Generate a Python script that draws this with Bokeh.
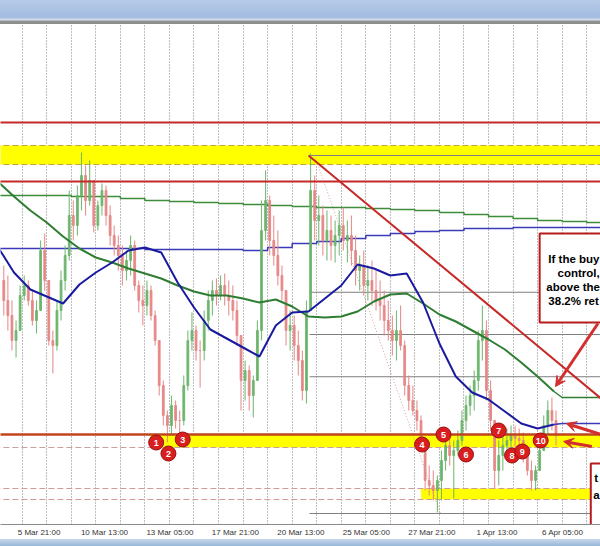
from bokeh.plotting import figure
from bokeh.models import Range1d, FixedTicker, ColumnDataSource, Arrow, VeeHead, Div
from bokeh.layouts import column
from bokeh.embed import file_html
from bokeh.resources import INLINE
from bokeh.core.properties import value

# ---------------- data ----------------
# x = hourly bar number (bar 0 = 6 Mar 00:00)
axis_label_bars = [-3, 61, 125, 189, 253, 317, 381, 445, 509]
axis_labels = ["5 Mar 21:00", "10 Mar 13:00", "13 Mar 05:00", "17 Mar 21:00",
               "20 Mar 13:00", "25 Mar 05:00", "27 Mar 21:00", "1 Apr 13:00", "6 Apr 05:00"]
day_start_bars = [-24, 0, 24, 48, 72, 96, 120, 144, 168, 192, 216, 240, 264,
                  288, 312, 336, 360, 384, 408, 432, 456, 480, 504, 528, 552]

# 4-hour candles, first one starts at bar -20
candle_first_bar = -20
candle_bars = 4
c_open0 = 1.0320
c_high = [1.0335,
          1.0325, 1.0300, 1.0280, 1.0315, 1.0325, 1.0320, 1.0310, 1.0300, 1.0360, 1.0367,
          1.0320, 1.0270, 1.0300, 1.0330, 1.0355, 1.0410, 1.0400, 1.0415, 1.0448, 1.0435,
          1.0440, 1.0415, 1.0400, 1.0417, 1.0415, 1.0395, 1.0375, 1.0365, 1.0355, 1.0350,
          1.0365, 1.0360, 1.0320, 1.0315, 1.0320, 1.0315, 1.0290, 1.0260, 1.0220, 1.0190,
          1.0205, 1.0200, 1.0190, 1.0225, 1.0270, 1.0288, 1.0275, 1.0260, 1.0290, 1.0310,
          1.0320, 1.0322, 1.0325, 1.0327, 1.0320, 1.0315, 1.0300, 1.0260, 1.0240, 1.0235,
          1.0225, 1.0280, 1.0400, 1.0430, 1.0405, 1.0385, 1.0370, 1.0335, 1.0310, 1.0290,
          1.0285, 1.0270, 1.0250, 1.0300, 1.0447, 1.0425, 1.0405, 1.0395, 1.0390, 1.0385,
          1.0380, 1.0390, 1.0393, 1.0380, 1.0385, 1.0365, 1.0345, 1.0350, 1.0335, 1.0340,
          1.0330, 1.0320, 1.0310, 1.0300, 1.0285, 1.0290, 1.0295, 1.0260, 1.0225, 1.0215,
          1.0200, 1.0185, 1.0160, 1.0135, 1.0130, 1.0125, 1.0150, 1.0170, 1.0165, 1.0160,
          1.0170, 1.0190, 1.0205, 1.0215, 1.0230, 1.0270, 1.0295, 1.0280, 1.0220, 1.0180,
          1.0160, 1.0165, 1.0172, 1.0175, 1.0175, 1.0172, 1.0168, 1.0155, 1.0140, 1.0135,
          1.0160, 1.0185, 1.0200, 1.0203, 1.0190]
c_low = [1.0285,
         1.0270, 1.0250, 1.0243, 1.0270, 1.0300, 1.0295, 1.0275, 1.0267, 1.0290, 1.0310,
         1.0255, 1.0227, 1.0250, 1.0280, 1.0310, 1.0340, 1.0360, 1.0365, 1.0390, 1.0385,
         1.0395, 1.0368, 1.0370, 1.0385, 1.0375, 1.0355, 1.0345, 1.0330, 1.0315, 1.0320,
         1.0325, 1.0310, 1.0288, 1.0275, 1.0285, 1.0280, 1.0255, 1.0205, 1.0175, 1.0158,
         1.0165, 1.0172, 1.0164, 1.0175, 1.0210, 1.0250, 1.0240, 1.0213, 1.0240, 1.0270,
         1.0285, 1.0295, 1.0300, 1.0295, 1.0285, 1.0280, 1.0255, 1.0190, 1.0200, 1.0190,
         1.0183, 1.0220, 1.0260, 1.0360, 1.0345, 1.0335, 1.0315, 1.0300, 1.0255, 1.0250,
         1.0240, 1.0225, 1.0200, 1.0197, 1.0290, 1.0360, 1.0355, 1.0345, 1.0340, 1.0340,
         1.0338, 1.0345, 1.0350, 1.0338, 1.0335, 1.0315, 1.0310, 1.0305, 1.0300, 1.0295,
         1.0290, 1.0280, 1.0265, 1.0260, 1.0245, 1.0240, 1.0250, 1.0205, 1.0190, 1.0185,
         1.0170, 1.0150, 1.0110, 1.0105, 1.0100, 1.0088, 1.0100, 1.0130, 1.0135, 1.0102,
         1.0145, 1.0155, 1.0170, 1.0185, 1.0190, 1.0210, 1.0240, 1.0200, 1.0170, 1.0112,
         1.0115, 1.0130, 1.0140, 1.0150, 1.0152, 1.0150, 1.0138, 1.0125, 1.0110, 1.0110,
         1.0130, 1.0150, 1.0165, 1.0170, 1.0155]
c_close = [1.0300,
           1.0285, 1.0260, 1.0270, 1.0305, 1.0315, 1.0300, 1.0280, 1.0290, 1.0350, 1.0320,
           1.0260, 1.0255, 1.0290, 1.0320, 1.0345, 1.0385, 1.0375, 1.0405, 1.0425, 1.0400,
           1.0420, 1.0375, 1.0395, 1.0410, 1.0385, 1.0365, 1.0355, 1.0345, 1.0330, 1.0340,
           1.0355, 1.0315, 1.0300, 1.0295, 1.0310, 1.0285, 1.0260, 1.0215, 1.0185, 1.0175,
           1.0195, 1.0180, 1.0180, 1.0215, 1.0260, 1.0270, 1.0250, 1.0250, 1.0280, 1.0300,
           1.0310, 1.0305, 1.0315, 1.0305, 1.0300, 1.0290, 1.0265, 1.0220, 1.0230, 1.0205,
           1.0220, 1.0270, 1.0370, 1.0400, 1.0360, 1.0345, 1.0325, 1.0310, 1.0270, 1.0275,
           1.0255, 1.0240, 1.0210, 1.0290, 1.0410, 1.0380, 1.0385, 1.0360, 1.0370, 1.0355,
           1.0365, 1.0375, 1.0360, 1.0365, 1.0350, 1.0330, 1.0335, 1.0315, 1.0320, 1.0310,
           1.0300, 1.0295, 1.0280, 1.0270, 1.0260, 1.0270, 1.0255, 1.0215, 1.0200, 1.0190,
           1.0180, 1.0160, 1.0120, 1.0115, 1.0110, 1.0120, 1.0140, 1.0155, 1.0145, 1.0150,
           1.0160, 1.0180, 1.0195, 1.0205, 1.0220, 1.0260, 1.0270, 1.0210, 1.0180, 1.0130,
           1.0145, 1.0155, 1.0160, 1.0165, 1.0162, 1.0160, 1.0145, 1.0130, 1.0120, 1.0130,
           1.0150, 1.0175, 1.0190, 1.0180, 1.0165]

# hourly moving averages, one value every 16 bars starting at bar -24
ma_first_bar = -24
ma_step = 16
ma_fast = [1.0354, 1.0328, 1.0311, 1.0304, 1.0297, 1.0316, 1.0328, 1.0338, 1.0350, 1.0353,
           1.0348, 1.0318, 1.0293, 1.0271, 1.0262, 1.0253, 1.0244, 1.0275, 1.0288, 1.0289,
           1.0302, 1.0315, 1.0336, 1.0332, 1.0325, 1.0327, 1.0298, 1.0257, 1.0224, 1.0208,
           1.0201, 1.0189, 1.0177, 1.0172, 1.0176]
ma_slow = [1.0419, 1.0404, 1.0390, 1.0378, 1.0364, 1.0352, 1.0343, 1.0338, 1.0332, 1.0327,
           1.0322, 1.0315, 1.0309, 1.0305, 1.0305, 1.0302, 1.0298, 1.0301, 1.0294, 1.0284,
           1.0283, 1.0284, 1.0289, 1.0299, 1.0306, 1.0307, 1.0297, 1.0286, 1.0279, 1.0270,
           1.0261, 1.0251, 1.0238, 1.0224, 1.0209]
ext_start_bar = 528
fast_ext = 1.0177
slow_ext = 1.0203

# daily moving averages (one value per day, from day_start_bars)
day_slow = [1.0405, 1.0405, 1.0405, 1.0404, 1.0404, 1.0402, 1.0400, 1.0399, 1.0398, 1.0397,
            1.0396, 1.0395, 1.0394, 1.0393, 1.0393, 1.0392, 1.0391, 1.0390, 1.0388, 1.0386,
            1.0384, 1.0382, 1.0380, 1.0379, 1.0378]
day_fast = [1.0352, 1.0352, 1.0352, 1.0352, 1.0352, 1.0352, 1.0351, 1.0351, 1.0351, 1.0351,
            1.0350, 1.0353, 1.0357, 1.0359, 1.0362, 1.0365, 1.0367, 1.0369, 1.0370, 1.0372,
            1.0372, 1.0373, 1.0373, 1.0373, 1.0373]

# horizontal levels / zones
res_upper = 1.0478
res_lower = 1.0419
zone_top = (1.0436, 1.0455)
support_line = 1.0166
support_dash = 1.0153
support_zone_start = 125
floor_zone = (1.0101, 1.0112)
floor_zone_start = 390

# fibonacci retracement
fib_start_bar = 281
fib_hi = 1.0445
fib_lo_bar = 409
fib_lo = 1.0087
fib_levels = [0.0, 0.382, 0.5, 0.618, 1.0]

# trend line
trend_bars = [280, 566]
trend_prices = [1.0445, 1.0202]

# numbered touches
touch_ids = ["1", "2", "3", "4", "5", "6", "7", "8", "9", "10"]
touch_bars = [131, 143, 157, 391, 412, 434, 466, 479, 489, 507]
touch_prices = [1.0158, 1.0147, 1.0161, 1.0156, 1.0166, 1.0146, 1.0170, 1.0145, 1.0149, 1.0160]

# annotation boxes
box_lines = ["If the buy", "control,", "above the", "38.2% ret"]
box_line_bars = [514.5, 523.5, 512.5, 514.5]
box_line_prices = [1.0342, 1.0328, 1.0314, 1.0300]
box2_lines = ["t", "a"]
box2_line_bars = [559.5, 558.5]
box2_line_prices = [1.0123, 1.0106]

# ---------------- figure ----------------
X0, X1 = -21.2, 565.5
Y0, Y1 = 1.0076, 1.0576

p = figure(frame_width=600, frame_height=500, x_range=Range1d(X0, X1), y_range=Range1d(Y0, Y1),
           min_border_left=0, min_border_right=0, min_border_top=0, min_border_bottom=14,
           y_axis_location=None, output_backend="svg", toolbar_location=None)
p.background_fill_color = "white"
p.border_fill_color = "white"
p.outline_line_color = None

p.ygrid.visible = False
p.xgrid.ticker = FixedTicker(ticks=day_start_bars)
p.xgrid.grid_line_color = "#7a7a7a"
p.xgrid.grid_line_dash = "1 2"
p.xgrid.grid_line_width = 1

ax = p.xaxis[0]
tick_pos = [b + 19.5 for b in axis_label_bars]
ax.ticker = FixedTicker(ticks=tick_pos)
ax.major_label_overrides = {t: s for t, s in zip(tick_pos, axis_labels)}
ax.major_tick_line_color = None
ax.minor_tick_line_color = None
ax.major_tick_out = 0
ax.major_tick_in = 0
ax.minor_tick_out = 0
ax.axis_line_color = "#8a8a8a"
ax.major_label_standoff = 3
ax.major_label_text_font = "Liberation Sans"
ax.major_label_text_font_size = "8px"
ax.major_label_text_color = "#333333"

RED = "#c62828"
# zones
p.quad(left=X0 - 50, right=X1 + 50, bottom=zone_top[0], top=zone_top[1],
       fill_color="#ffff00", line_color=None)
p.quad(left=support_zone_start, right=X1 + 50, bottom=support_dash, top=support_line,
       fill_color="#ffff00", line_color=None)
p.quad(left=floor_zone_start, right=X1 + 50, bottom=floor_zone[0], top=floor_zone[1],
       fill_color="#ffff00", line_color=None)
for lv in zone_top:
    p.segment(x0=X0 - 50, x1=X1 + 50, y0=lv, y1=lv, line_color="#c9a43a", line_dash="6 3", line_width=1.2)
for lv in floor_zone:
    p.segment(x0=X0 - 50, x1=X1 + 50, y0=lv, y1=lv, line_color="#d09a9a", line_dash="6 3", line_width=1.2)
p.segment(x0=X0 - 50, x1=X1 + 50, y0=support_dash, y1=support_dash, line_color="#c9a0a0",
          line_dash="6 3", line_width=1.2)

# fibonacci
for f in fib_levels:
    lv = fib_hi - f * (fib_hi - fib_lo)
    p.segment(x0=fib_start_bar, x1=X1 + 50, y0=lv, y1=lv, line_color="#7f7f7f", line_width=1)
p.segment(x0=fib_start_bar + 5, y0=fib_hi, x1=fib_lo_bar, y1=fib_lo, line_color="#d8a0a0",
          line_dash="1 2", line_width=1)

# daily MAs
p.step(x=day_start_bars + [day_start_bars[-1] + 24], y=day_slow + [day_slow[-1]], mode="after",
       line_color="#3c8c3c", line_width=1.5)
p.step(x=day_start_bars + [day_start_bars[-1] + 24], y=day_fast + [day_fast[-1]], mode="after",
       line_color="#3a3ab8", line_width=1.5)

# candles
n = len(c_close)
c_open = [c_open0] + c_close[:-1]
cx = [candle_first_bar + candle_bars * i + candle_bars / 2 for i in range(n)]
cols = ["#6ab46a" if c > o else "#e58585" for o, c in zip(c_open, c_close)]
src = ColumnDataSource(dict(x=cx, hi=c_high, lo=c_low, top=[max(o, c) for o, c in zip(c_open, c_close)],
                            bot=[min(o, c) for o, c in zip(c_open, c_close)], col=cols))
p.segment(x0="x", y0="lo", x1="x", y1="hi", line_color="col", line_width=1.1, line_alpha=0.9, source=src)
p.vbar(x="x", width=1.8, top="top", bottom="bot", fill_color="col", line_color="col",
       fill_alpha=0.85, line_alpha=0.85, source=src)

# red levels
for lv in (res_upper, res_lower):
    p.segment(x0=X0 - 50, x1=X1 + 50, y0=lv, y1=lv, line_color=RED, line_width=2)
p.segment(x0=X0 - 50, x1=X1 + 50, y0=support_line, y1=support_line, line_color="#c0451f", line_width=2.5)

# hourly MAs
mx = [ma_first_bar + ma_step * i for i in range(len(ma_fast))]
p.line(mx, ma_slow, line_color="#2e7d32", line_width=2)
p.line([mx[-1], ext_start_bar, X1 + 50], [ma_slow[-1], slow_ext, slow_ext], line_color="#2e7d32", line_width=1.5)
p.line(mx, ma_fast, line_color="#1a1aa0", line_width=2)
p.line([mx[-1], ext_start_bar, X1 + 50], [ma_fast[-1], fast_ext, fast_ext], line_color="#3a3ab8", line_width=1.5)

# trend line
p.line(trend_bars, trend_prices, line_color=RED, line_width=2)

# numbered circles
p.scatter(touch_bars, touch_prices, marker="circle", size=15, fill_color="#d81e1e", line_color="#9a1010",
          line_width=1)
p.text(touch_bars, touch_prices, text=touch_ids, text_align="center", text_baseline="middle",
       text_color="white", text_font=value("Liberation Sans"), text_font_style="bold", text_font_size="9px")

# annotation boxes
p.quad(left=506, right=620, bottom=1.0278, top=1.0367, fill_color="white", line_color="#b71c1c", line_width=2)
p.text(box_line_bars, box_line_prices, text=box_lines, text_align="left", text_baseline="middle",
       text_color="black", text_font=value("Liberation Sans"), text_font_style="bold", text_font_size="11.5px")
p.quad(left=556, right=620, bottom=1.0063, top=1.0137, fill_color="white", line_color="#b71c1c", line_width=2)
p.text(box2_line_bars, box2_line_prices, text=box2_lines, text_align="left", text_baseline="middle",
       text_color="black", text_font=value("Liberation Sans"), text_font_style="bold", text_font_size="11.5px")

# arrows
for xs, ys, xe, ye in [(563, 1.0277, 521.5, 1.0214), (566, 1.0166, 532, 1.0177), (557, 1.0154, 529.5, 1.0159)]:
    p.add_layout(Arrow(end=VeeHead(size=10, fill_color="#d32f2f", line_color="#d32f2f"),
                       x_start=xs, y_start=ys, x_end=xe, y_end=ye, line_color="#d32f2f", line_width=3))

top_bar = Div(text="", width=600, height=24, margin=(0, 0, 0, 0),
              styles={"background": "linear-gradient(to bottom, #b6cbe7 0%, #a2bbdf 72%, #d5dfec 82%, #8d8d8d 90%, #8d8d8d 100%)"})
bottom_bar = Div(text="", width=600, height=8, margin=(0, 0, 0, 0),
                 styles={"background": "linear-gradient(to bottom, #c9d9ea 0%, #8fb1d6 100%)"})

layout = column(top_bar, p, bottom_bar, spacing=0)
open("out.html", "w").write(file_html(layout, INLINE))
